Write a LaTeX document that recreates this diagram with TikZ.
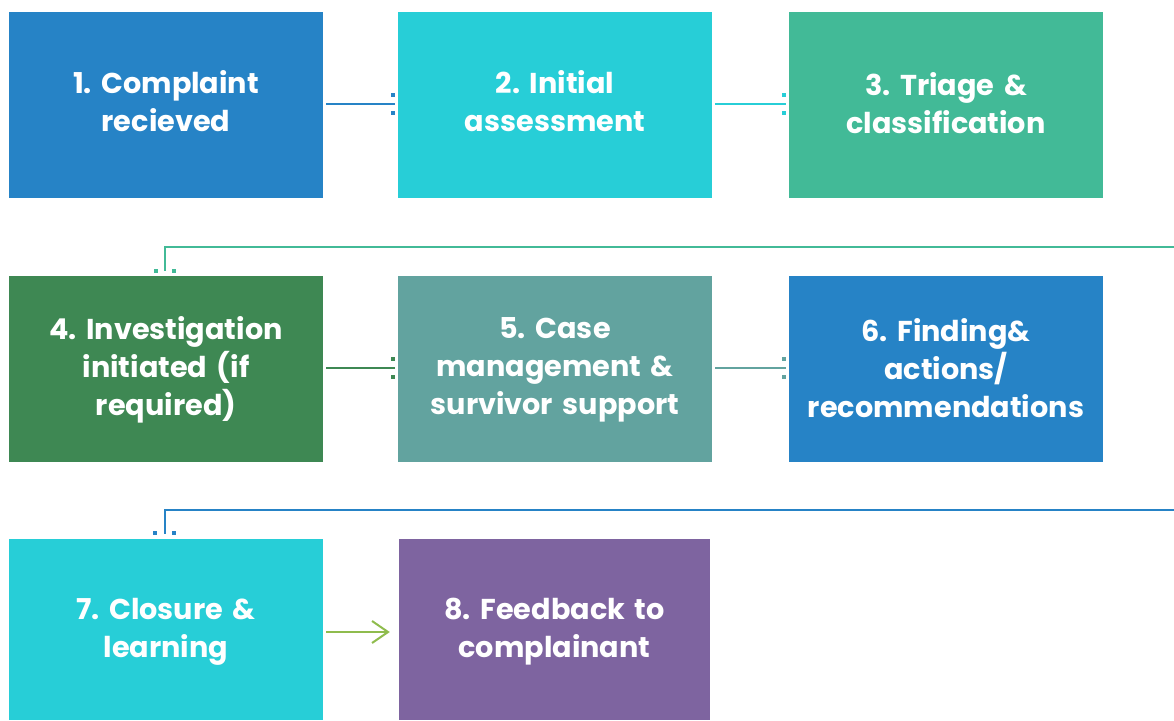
\documentclass[tikz,border=0pt]{standalone}
\usepackage{fontspec}
\setmainfont{Poppins}
\usetikzlibrary{arrows.meta}
\definecolor{cblue}{HTML}{2683C6}
\definecolor{ccyan}{HTML}{27CED7}
\definecolor{cteal}{HTML}{42BA97}
\definecolor{cgreen}{HTML}{3E8853}
\definecolor{cgrey}{HTML}{62A39F}
\definecolor{cpurple}{HTML}{7E64A0}
\definecolor{clime}{HTML}{8FBC4D}
\frenchspacing
\tikzset{
  stepbox/.style={draw=none, minimum width=314pt, minimum height=186pt, inner sep=0pt},
  steptext/.style={text=white, align=center, text width=300pt, inner sep=0pt,
    font=\fontsize{28.7}{38}\selectfont\bfseries},
  conn/.style={line width=2pt},
  tipdot/.style={inner sep=0pt, minimum size=3.5pt, shape=rectangle},
}
\begin{document}
\begin{tikzpicture}[x=1pt,y=-1pt]
\useasboundingbox (0,0) rectangle (1174,720);
\node[stepbox, fill=cblue] (b1) at (166,105) {};
\node[stepbox, fill=ccyan] (b2) at (555,105) {};
\node[stepbox, fill=cteal] (b3) at (946,105) {};
\node[stepbox, fill=cgreen] (b4) at (166,369) {};
\node[stepbox, fill=cgrey] (b5) at (555,369) {};
\node[stepbox, fill=cblue] (b6) at (946,369) {};
\node[stepbox, fill=ccyan, minimum height=181pt] (b7) at (166,629.5) {};
\node[stepbox, fill=cpurple, minimum width=311pt, minimum height=181pt] (b8) at (554.5,629.5) {};

\node[steptext] (t1) at ([yshift=3.5pt]b1.center) {1. Complaint\\recieved};
\node[steptext] (t2) at ([yshift=3.5pt]b2.center) {2. Initial\\assessment};
\node[steptext] (t3) at ([yshift=1.5pt]b3.center) {3. Triage \&\\classification};
\node[steptext] (t4) at ([yshift=-1pt]b4.center) {4. Investigation\\initiated (if\\required)};
\node[steptext] (t5) at ([yshift=-1pt]b5.center) {5. Case\\management \&\\survivor support};
\node[steptext] (t6) at ([yshift=1pt]b6.center) {6. Finding\&\\actions/\\recommendations};
\node[steptext] (t7) at ([yshift=-2.5pt]b7.center) {7. Closure \&\\learning};
\node[steptext] (t8) at ([yshift=-2.5pt]b8.center) {8. Feedback to\\complainant};

% 1 -> 2
\coordinate (e12) at ([xshift=-3pt]b2.west |- 0,104);
\draw[conn, cblue] ([xshift=3pt]b1.east |- 0,104) -- (e12);
\node[tipdot, fill=cblue] (d12a) at (393,95) {};
\node[tipdot, fill=cblue] (d12b) at (393,113) {};
% 2 -> 3
\coordinate (e23) at ([xshift=-3pt]b3.west |- 0,104);
\draw[conn, ccyan] ([xshift=3pt]b2.east |- 0,104) -- (e23);
\node[tipdot, fill=ccyan] (d23a) at (784,95) {};
\node[tipdot, fill=ccyan] (d23b) at (784,113) {};
% 3 -> 4
\coordinate (r34) at (1174,247);
\coordinate (e34) at (165,271);
\draw[conn, cteal] (r34) -- (165,247) -- (e34);
\node[tipdot, fill=cteal] (d34a) at (156,271) {};
\node[tipdot, fill=cteal] (d34b) at (174,271) {};
% 4 -> 5
\coordinate (e45) at ([xshift=-3pt]b5.west |- 0,368);
\draw[conn, cgreen] ([xshift=3pt]b4.east |- 0,368) -- (e45);
\node[tipdot, fill=cgreen] (d45a) at (393,359) {};
\node[tipdot, fill=cgreen] (d45b) at (393,377) {};
% 5 -> 6
\coordinate (e56) at ([xshift=-3pt]b6.west |- 0,368);
\draw[conn, cgrey] ([xshift=3pt]b5.east |- 0,368) -- (e56);
\node[tipdot, fill=cgrey] (d56a) at (784,359) {};
\node[tipdot, fill=cgrey] (d56b) at (784,377) {};
% 6 -> 7
\coordinate (r67) at (1174,510);
\coordinate (e67) at (165,534);
\draw[conn, cblue] (r67) -- (165,510) -- (e67);
\node[tipdot, fill=cblue] (d67a) at (155,533) {};
\node[tipdot, fill=cblue] (d67b) at (174,533) {};
% 7 -> 8
\draw[conn, clime, -{Straight Barb[length=16pt,width=22pt,line width=2pt]}]
  ([xshift=3pt]b7.east |- 0,632) -- ([xshift=-9pt]b8.west |- 0,632);
\end{tikzpicture}
\end{document}
